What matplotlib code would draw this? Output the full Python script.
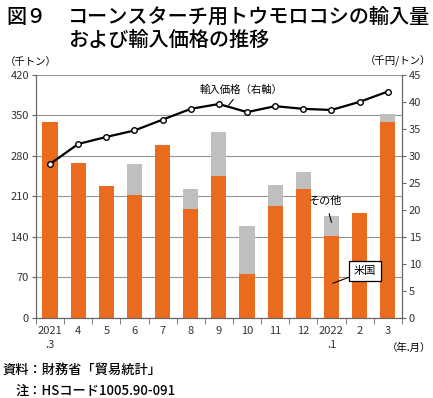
import matplotlib.pyplot as plt
import numpy as np

plt.rcParams["font.family"] = ["Noto Sans CJK JP", "DejaVu Sans"]

# ----------------- データ -----------------
LABELS = ["2021\n.3", "4", "5", "6", "7", "8", "9", "10", "11", "12", "2022\n.1", "2", "3"]
US = [339, 268, 228, 213, 298, 188, 245, 76, 194, 222, 142, 181, 338]
TOTAL = [339, 268, 228, 266, 298, 223, 321, 159, 230, 252, 177, 181, 352]
PRICE = [28.5, 32.2, 33.5, 34.7, 36.7, 38.7, 39.6, 38.1, 39.2, 38.7, 38.5, 40.0, 41.9]

ORANGE = "#EA6A1E"
GRAY = "#BFBFBF"

other = [t - u for t, u in zip(TOTAL, US)]
x = np.arange(len(LABELS))

fig = plt.figure(figsize=(4.33, 3.98), dpi=100)
ax = fig.add_axes([0.083, 0.201, 0.845, 0.611])
ax2 = ax.twinx()

ax.bar(x, US, width=0.54, color=ORANGE, zorder=3)
ax.bar(x, other, bottom=US, width=0.54, color=GRAY, zorder=3)

ax.set_xlim(-0.5, len(LABELS) - 0.5)
ax.set_ylim(0, 420)
ax.set_yticks(range(0, 421, 70))
ax.grid(axis="y", color="#949494", linewidth=0.8, zorder=0)
ax.set_xticks(x)
ax.set_xticklabels(LABELS, fontsize=8, linespacing=1.5, color="#333333")
ax.set_xticks(np.arange(-0.5, len(LABELS), 1), minor=True)
ax.tick_params(axis="x", which="major", length=0, pad=6)
ax.tick_params(axis="x", which="minor", length=4, color="#666666")
ax.tick_params(axis="y", length=3, color="#666666", labelsize=8, pad=2, labelcolor="#333333")

ax2.plot(x, PRICE, color="black", linewidth=1.6, marker="o", markersize=4,
         markerfacecolor="white", markeredgecolor="black", markeredgewidth=1, zorder=5)
ax2.set_ylim(0, 45)
ax2.set_yticks(range(0, 46, 5))
ax2.tick_params(axis="y", length=3, color="#666666", labelsize=8, pad=2, labelcolor="#333333")

for a in (ax, ax2):
    a.spines["top"].set_visible(False)
    for s in ("left", "right", "bottom"):
        a.spines[s].set_color("#666666")
        a.spines[s].set_linewidth(0.8)

# 注記
ax2.annotate("輸入価格（右軸）", xy=(6.35, 39.4), xytext=(6.8, 42.3),
             fontsize=7.5, ha="center", va="center",
             arrowprops=dict(arrowstyle="-", color="black", lw=0.8, shrinkA=2, shrinkB=0))
ax.annotate("その他", xy=(10, 165), xytext=(9.8, 203),
            fontsize=8, ha="center", va="center",
            arrowprops=dict(arrowstyle="-", color="black", lw=0.8, shrinkA=4, shrinkB=0))
ax.annotate("米国", xy=(10.05, 60), xytext=(11.2, 81),
            fontsize=8, ha="center", va="center",
            bbox=dict(boxstyle="square,pad=0.45", facecolor="white", edgecolor="black", lw=0.9),
            arrowprops=dict(arrowstyle="-", color="black", lw=0.8, shrinkA=0, shrinkB=0))

fig.text(0.012, 0.845, "（千トン）", fontsize=7.5, ha="left", va="center")
fig.text(0.995, 0.845, "（千円/トン）", fontsize=7.5, ha="right", va="center")
fig.text(0.995, 0.127, "（年.月）", fontsize=7.5, ha="right", va="center")

# タイトル
fig.text(0.015, 0.957, "図９", fontsize=14.5, fontweight="medium", ha="left", va="center")
fig.text(0.158, 0.957, "コーンスターチ用トウモロコシの輸入量", fontsize=14.5,
         fontweight="medium", ha="left", va="center")
fig.text(0.158, 0.898, "および輸入価格の推移", fontsize=14.5,
         fontweight="medium", ha="left", va="center")

# 資料・注
fig.text(0.005, 0.072, "資料：財務省「貿易統計」", fontsize=9.5, fontweight="medium",
         ha="left", va="center")
fig.text(0.035, 0.018, "注：HSコード1005.90-091", fontsize=9.5, fontweight="medium",
         ha="left", va="center")

fig.savefig("out.png", dpi=100)
